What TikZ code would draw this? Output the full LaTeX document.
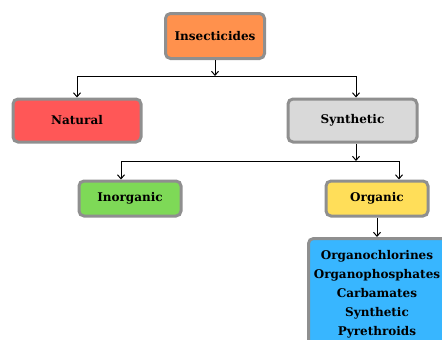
\documentclass[tikz,border=0pt]{standalone}
\usepackage{fontspec}
\setmainfont{DejaVu Serif}
\usepackage{xcolor}
\usetikzlibrary{arrows.meta}

\definecolor{boxline}{HTML}{8F8F8F}
\definecolor{insorange}{HTML}{FF914D}
\definecolor{natred}{HTML}{FF5757}
\definecolor{syngray}{HTML}{D9D9D9}
\definecolor{inorggreen}{HTML}{7ED957}
\definecolor{orgyellow}{HTML}{FFDE59}
\definecolor{listblue}{HTML}{38B6FF}

\tikzset{
  catbox/.style={draw=boxline,line width=3pt,rounded corners=5pt,
    font=\bfseries\fontsize{12}{14}\selectfont,align=center,inner sep=0pt},
  link/.style={-{Straight Barb[length=4pt,width=7pt]},line width=1pt}
}

\begin{document}
\begin{tikzpicture}[x=1pt,y=-1pt]
\useasboundingbox (0,0) rectangle (442,340);
\clip (0,0) rectangle (442,340);
\node[catbox,fill=insorange,minimum width=99pt,minimum height=45pt] (ins) at (215,36){Insecticides};
\node[catbox,fill=natred,minimum width=128pt,minimum height=43pt] (nat) at (77,120.5){Natural};
\node[catbox,fill=syngray,minimum width=129pt,minimum height=43pt] (syn) at (352.5,120.5){Synthetic};
\node[catbox,fill=inorggreen,minimum width=102pt,minimum height=35pt] (inorg) at (130,198.5){Inorganic};
\node[catbox,fill=orgyellow,minimum width=102pt,minimum height=35pt] (org) at (377,198.5){Organic};
\node[catbox,fill=listblue,anchor=north west,minimum width=142pt,minimum height=115pt] (list) at (307,237){};
\node[font=\bfseries\fontsize{12}{19}\selectfont,align=center,anchor=north] (listtxt) at (377,247)
  {Organochlorines\\Organophosphates\\Carbamates\\Synthetic\\Pyrethroids};
% first level
\coordinate (j1) at (215,76);
\coordinate (j1l) at (77,76);
\coordinate (j1r) at (356,76);
\draw[link] (ins.south) -- (j1);
\draw[line width=1pt] (j1l) -- (j1r);
\draw[link] (j1l) -- (j1l |- nat.north);
\draw[link] (j1r) -- (j1r |- syn.north);
% second level
\coordinate (j2) at (356,161);
\coordinate (j2l) at (121,161);
\coordinate (j2r) at (399,161);
\draw[link] (j2 |- syn.south) -- (j2);
\draw[line width=1pt] (j2l) -- (j2r);
\draw[link] (j2l) -- (j2l |- inorg.north);
\draw[link] (j2r) -- (j2r |- org.north);
% list
\draw[link] (org.south) -- (list.north -| org.south);
\end{tikzpicture}
\end{document}
